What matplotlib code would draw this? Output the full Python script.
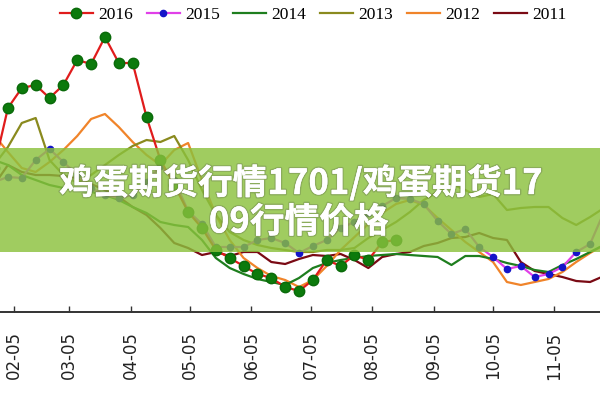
import numpy as np
import pandas as pd
import matplotlib
matplotlib.use("Agg")
from matplotlib import pyplot as plt
from matplotlib import dates as mdates
from matplotlib import patheffects as pe
from matplotlib.patches import Rectangle

# weekly sampling dates (common non-leap year, only month-day is shown)
dates = pd.date_range("2015-01-26", periods=45, freq="7D")

price_2016 = [4.02, 4.62, 4.82, 4.85, 4.72, 4.85, 5.10, 5.06, 5.33, 5.07, 5.07, 4.53, 4.10, 3.85,
              3.58, 3.42, 3.20, 3.12, 3.04, 2.96, 2.92, 2.83, 2.79, 2.90, 3.10, 3.04, 3.15, 3.10,
              3.28, 3.30]
price_2015 = [3.88, 3.93, 3.92, 4.10, 4.21, 4.08, 3.95, 3.82, 3.75, 3.72, 3.75, 3.88, 4.04, 3.90,
              3.59, 3.46, 3.23, 3.23, 3.23, 3.30, 3.32, 3.27, 3.17, 3.24, 3.30, 3.42, 3.48, 3.57,
              3.64, 3.72, 3.71, 3.66, 3.49, 3.36, 3.41, 3.23, 3.13, 3.01, 3.04, 2.93, 2.96, 3.03,
              3.18, 3.26, 3.58]
price_2014 = [4.10, 4.05, 3.95, 3.90, 3.85, 3.82, 3.80, 3.78, 3.75, 3.70, 3.63, 3.57, 3.48, 3.45,
              3.43, 3.30, 3.12, 3.02, 2.96, 2.91, 2.88, 2.85, 2.92, 3.02, 3.07, 3.10, 3.12, 3.14,
              3.15, 3.16, 3.15, 3.14, 3.13, 3.05, 3.14, 3.14, 3.11, 3.07, 3.04, 3.00, 2.98, 3.05,
              3.11, 3.18, 3.25]
price_2013 = [4.05, 4.23, 4.47, 4.52, 4.10, 3.95, 3.87, 3.95, 4.05, 4.15, 4.24, 4.30, 4.28, 4.34,
              4.10, 3.80, 3.55, 3.38, 3.30, 3.25, 3.22, 3.20, 3.18, 3.18, 3.20, 3.20, 3.22, 3.32,
              3.40, 3.48, 3.58, 3.70, 3.78, 3.86, 3.80, 3.73, 3.76, 3.60, 3.62, 3.63, 3.63, 3.52,
              3.45, 3.53, 3.62]
price_2012 = [4.35, 4.18, 4.02, 3.98, 4.08, 4.20, 4.34, 4.51, 4.56, 4.43, 4.28, 4.15, 4.05, 4.20,
              4.27, 3.90, 3.55, 3.30, 3.12, 3.02, 2.94, 2.90, 2.83, 2.90, 3.04, 3.20, 3.33, 3.46,
              3.57, 3.66, 3.70, 3.65, 3.52, 3.40, 3.28, 3.18, 3.08, 2.88, 2.85, 2.88, 2.91, 2.98,
              3.08, 3.17, 3.25]
price_2011 = [3.85, 4.05, 3.98, 3.95, 3.95, 3.94, 3.92, 3.86, 3.80, 3.73, 3.63, 3.55, 3.42, 3.27,
              3.22, 3.15, 3.18, 3.14, 3.18, 3.18, 3.08, 3.06, 3.11, 3.15, 3.14, 3.16, 3.10, 3.02,
              3.13, 3.16, 3.18, 3.24, 3.27, 3.32, 3.33, 3.37, 3.32, 3.30, 3.08, 2.99, 2.96, 2.93,
              2.89, 2.88, 2.94]

tick_dates = pd.to_datetime(["2015-02-05", "2015-03-05", "2015-04-05", "2015-05-05", "2015-06-05",
                             "2015-07-05", "2015-08-05", "2015-09-05", "2015-10-05", "2015-11-05"])
title = "鸡蛋期货行情1701/鸡蛋期货17"
title2 = "09行情价格"

fig = plt.figure(figsize=(6, 4), dpi=100)
ax = fig.add_axes([0, 0.22, 1, 0.71])

lw = 1.6
ax.plot(dates[:len(price_2011)], price_2011, color="#7a0a14", lw=lw, label="2011", zorder=2)
ax.plot(dates[:len(price_2012)], price_2012, color="#f0842a", lw=lw, label="2012", zorder=2)
ax.plot(dates[:len(price_2013)], price_2013, color="#8a8a1e", lw=lw, label="2013", zorder=2)
ax.plot(dates[:len(price_2014)], price_2014, color="#1e7e1e", lw=lw, label="2014", zorder=3)
ax.plot(dates[:len(price_2015)], price_2015, color="#e040e8", lw=lw, marker="o", ms=4.5,
        mfc="#1414c8", mec="#1414c8", label="2015", zorder=4)
ax.plot(dates[:len(price_2016)], price_2016, color="#e01c1c", lw=lw, marker="o", ms=7.5,
        mfc="#0c7a0c", mec="#0a6a0a", label="2016", zorder=5)

ax.set_xlim(pd.Timestamp("2015-01-29"), pd.Timestamp("2015-11-28"))
ax.set_ylim(2.58, 5.42)
ax.set_xticks(tick_dates)
ax.xaxis.set_major_formatter(mdates.DateFormatter("%m-%d"))
ax.tick_params(axis="x", direction="in", length=4, width=1, color="#333333", pad=14,
               labelrotation=90, labelsize=12, labelcolor="#222222")
ax.set_yticks([])
for side in ["top", "right", "left"]:
    ax.spines[side].set_visible(False)
ax.spines["bottom"].set_color("#333333")
ax.spines["bottom"].set_linewidth(1.4)

handles, labels = ax.get_legend_handles_labels()
order = [5, 4, 3, 2, 1, 0]
fig.legend([handles[i] for i in order], [labels[i] for i in order], ncol=6, loc="center",
           bbox_to_anchor=(0.522, 0.9625), frameon=False, handlelength=1.9, handletextpad=0.3,
           columnspacing=0.8, prop={"family": "Liberation Serif", "size": 12.5})

# semi-transparent banner with title over the chart
fig.patches.append(Rectangle((0, 0.37), 1, 0.26, transform=fig.transFigure,
                             facecolor="#8bc13d", alpha=0.82, edgecolor="none", zorder=10))
text_fx = [pe.withStroke(linewidth=2, foreground=(0.3, 0.3, 0.3, 0.25)), pe.Normal()]
fig.text(0.502, 0.543, title, ha="center", va="center", color="white", fontsize=25,
         fontweight="black", family=["Noto Sans CJK SC", "DejaVu Sans"], zorder=11,
         path_effects=text_fx)
fig.text(0.498, 0.445, title2, ha="center", va="center", color="white", fontsize=25,
         fontweight="black", family=["Noto Sans CJK SC", "DejaVu Sans"], zorder=11,
         path_effects=text_fx)

fig.savefig("out.png", dpi=100)
